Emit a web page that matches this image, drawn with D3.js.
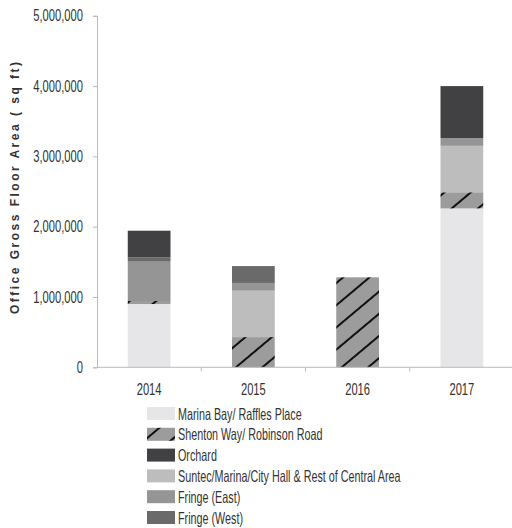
<!DOCTYPE html>
<html>
<head>
<meta charset="utf-8">
<script src="https://cdn.jsdelivr.net/npm/d3@7"></script>
<style>
  body { margin: 0; background: #fff; }
  text { font-family: "Liberation Sans", Arial, sans-serif; fill: #333; }
</style>
</head>
<body>
<div id="chart"></div>
<script>
// values (sq ft)
var years = ["2014", "2015", "2016", "2017"];
var marinaBay  = [900000, 0, 0, 2260000];
var shenton    = [43000, 430000, 1280000, 230000];
var orchard    = [380000, 0, 0, 740000];
var suntec     = [0, 660000, 0, 660000];
var fringeEast = [560000, 110000, 0, 110000];
var fringeWest = [60000, 240000, 0, 0];
var yTicks = [0, 1000000, 2000000, 3000000, 4000000, 5000000];

var legendNames = [
    "Marina Bay/ Raffles Place",
    "Shenton Way/ Robinson Road",
    "Orchard",
    "Suntec/Marina/City Hall & Rest of Central Area",
    "Fringe (East)",
    "Fringe (West)"
];
var legendKeys = ["marina", "shenton", "orchard", "suntec", "east", "west"];
// order in which the pieces sit on the bars, bottom first
var stackKeys = ["marina", "shenton", "suntec", "east", "west", "orchard"];

var fills = {
    marina: "#e6e6e8",
    shenton: "url(#hatch)",
    orchard: "#414143",
    suntec: "#bdbdbd",
    east: "#959595",
    west: "#6a6a6a"
};

var rows = years.map(function(y, i) {
    return {
        year: y,
        marina: marinaBay[i],
        shenton: shenton[i],
        orchard: orchard[i],
        suntec: suntec[i],
        east: fringeEast[i],
        west: fringeWest[i]
    };
});

// the original text is a tall narrow face: squash it sideways, stretch it up
function narrow(sel, k, v) {
    sel.each(function() {
        var t = d3.select(this);
        var tx = +t.attr("x") || 0, ty = +t.attr("y") || 0;
        t.attr("x", 0).attr("y", 0)
            .attr("transform", "translate(" + tx + "," + ty + ") scale(" + k + "," + v + ")");
    });
}

var width = 512, height = 528;

var svg = d3.select("#chart").append("svg")
    .attr("width", width)
    .attr("height", height);

// diagonal hatch for Shenton Way
var pat = svg.append("defs").append("pattern")
    .attr("id", "hatch")
    .attr("patternUnits", "userSpaceOnUse")
    .attr("width", 17)
    .attr("height", 17)
    .attr("patternTransform", "rotate(50)");
pat.append("rect").attr("width", 17).attr("height", 17).attr("fill", "#9c9c9c");
pat.append("line")
    .attr("x1", 8).attr("y1", -1).attr("x2", 8).attr("y2", 18)
    .attr("stroke", "#000").attr("stroke-width", 1.8);

var x = d3.scaleBand()
    .domain(years)
    .range([97, 514]);
var y = d3.scaleLinear()
    .domain([0, 5000000])
    .range([367.3, 15.8]);

var barW = x.bandwidth() * 0.41;

var stacked = d3.stack().keys(stackKeys)(rows);

svg.selectAll("g.layer")
    .data(stacked)
    .enter().append("g")
        .attr("class", "layer")
        .attr("fill", function(d) { return fills[d.key]; })
    .selectAll("rect")
    .data(function(d) { return d; })
    .enter().append("rect")
        .attr("x", function(d) { return x(d.data.year) + (x.bandwidth() - barW) / 2; })
        .attr("y", function(d) { return y(d[1]); })
        .attr("width", barW)
        .attr("height", function(d) { return y(d[0]) - y(d[1]); });

// y axis
var yAxis = svg.append("g")
    .attr("transform", "translate(97,0)")
    .call(d3.axisLeft(y).tickValues(yTicks).tickSize(4).tickPadding(10)
        .tickFormat(d3.format(",")));
yAxis.select(".domain").attr("stroke", "#bbb");
yAxis.selectAll(".tick line").attr("stroke", "#bbb");
yAxis.selectAll("text").style("font-size", "14px").attr("fill", "#333")
    .call(narrow, 0.8, 1.15);

// x axis: ticks at category boundaries, labels in the middle
var xAxis = svg.append("g")
    .attr("transform", "translate(0," + y(0) + ")");
xAxis.append("line")
    .attr("x1", 97).attr("x2", 512)
    .attr("stroke", "#bbb");
xAxis.selectAll("line.sep")
    .data(years.slice(1))
    .enter().append("line")
        .attr("class", "sep")
        .attr("x1", function(d) { return x(d); })
        .attr("x2", function(d) { return x(d); })
        .attr("y1", 0).attr("y2", 4)
        .attr("stroke", "#bbb");
xAxis.selectAll("text")
    .data(years)
    .enter().append("text")
        .attr("x", function(d) { return x(d) + x.bandwidth() / 2; })
        .attr("y", 28)
        .attr("text-anchor", "middle")
        .style("font-size", "14px")
        .text(function(d) { return d; })
        .call(narrow, 0.8, 1.15);

// y title
svg.append("text")
    .attr("transform", "translate(19,188) rotate(-90)")
    .attr("text-anchor", "middle")
    .style("font-weight", "bold")
    .style("font-size", "12px")
    .attr("textLength", 252)
    .attr("lengthAdjust", "spacing")
    .text("Office Gross Floor Area ( sq ft)");

// legend
var legend = svg.selectAll("g.legend")
    .data(legendKeys)
    .enter().append("g")
        .attr("class", "legend")
        .attr("transform", function(d, i) { return "translate(147," + (407 + i * 20.8) + ")"; });
legend.append("rect")
    .attr("width", 28)
    .attr("height", 13)
    .attr("fill", function(d) { return fills[d]; });
legend.append("text")
    .attr("x", 31)
    .attr("y", 12.5)
    .style("font-size", "14px")
    .text(function(d, i) { return legendNames[i]; })
    .call(narrow, 0.77, 1.12);
</script>
</body>
</html>
